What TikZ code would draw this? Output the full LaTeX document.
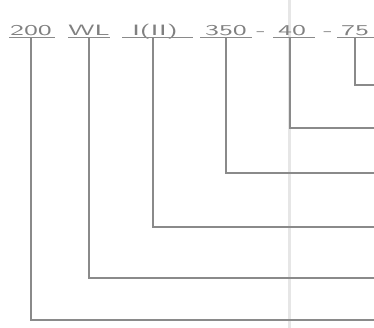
\documentclass[tikz,border=0pt]{standalone}
\usepackage{xcolor}
\usetikzlibrary{positioning}
\definecolor{CodeGray}{HTML}{808080}
\definecolor{LeadGray}{HTML}{8A8A8A}
\definecolor{FoldGray}{HTML}{E6E6E6}
\newcommand{\widecode}[1]{\scalebox{1.9}[1]{#1}}
\tikzset{
  seg/.style={inner sep=0pt, anchor=base, text=CodeGray,
              font=\sffamily\fontsize{15}{15}\selectfont},
  bar/.style={draw=LeadGray, line width=1.1pt},
  lead/.style={draw=LeadGray, line width=1.4pt}
}

\begin{document}
\begin{tikzpicture}[x=1pt, y=-1pt]
  \useasboundingbox (0,0) rectangle (374,328);
  % scan fold
  \fill[FoldGray] (288,0) rectangle (291,328);
  % code segments
  \node[seg] (s200) at (31,35.5) {\widecode{200}};
  \node[seg] (sWL) at (89,35.5) {\widecode{WL}};
  \node[seg] (sI) at (155,35.5) {\widecode{I(II)}};
  \node[seg] (s350) at (226,35.5) {\widecode{350}};
  \node[seg] (d1) at (261,35.5) {\widecode{-}};
  \node[seg] (s40) at (292,35.5) {\widecode{40}};
  \node[seg] (d2) at (328,35.5) {\widecode{-}};
  \node[seg] (s75) at (355,35.5) {\widecode{75}};
  % underlines
  \draw[bar] (9,37.5) -- (55,37.5);
  \draw[bar] (68,37.5) -- (110,37.5);
  \draw[bar] (122,37.5) -- (193,37.5);
  \draw[bar] (200,37.5) -- (252,37.5);
  \draw[bar] (273,37.5) -- (315,37.5);
  \draw[bar] (337,37.5) -- (374,37.5);
  % right ends
  \coordinate (e75) at (374,85);
  \coordinate (e40) at (374,128);
  \coordinate (e350) at (374,173);
  \coordinate (eI) at (374,227);
  \coordinate (eWL) at (374,278);
  \coordinate (e200) at (374,320);
  % leaders
  \draw[lead] ([yshift=-2pt]s200.base) |- (e200);
  \draw[lead] ([yshift=-2pt]sWL.base) |- (eWL);
  \draw[lead] ([xshift=-2pt,yshift=-2pt]sI.base) |- (eI);
  \draw[lead] ([yshift=-2pt]s350.base) |- (e350);
  \draw[lead] ([xshift=-2pt,yshift=-2pt]s40.base) |- (e40);
  \draw[lead] ([yshift=-2pt]s75.base) |- (e75);
\end{tikzpicture}
\end{document}
